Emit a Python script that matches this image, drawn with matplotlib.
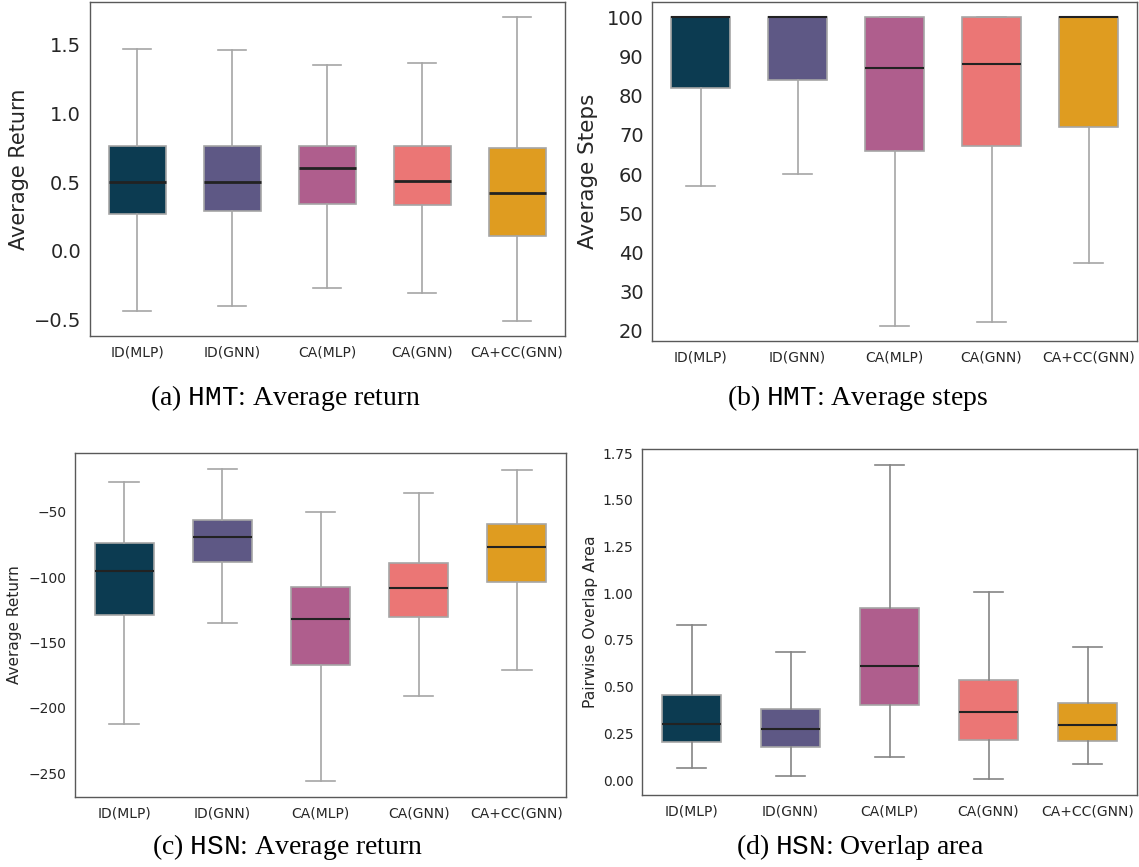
import colorsys

import matplotlib
matplotlib.use("Agg")
import matplotlib.pyplot as plt
from matplotlib.colors import to_rgb
from matplotlib.ticker import FormatStrFormatter, MultipleLocator

methods = ["ID(MLP)", "ID(GNN)", "CA(MLP)", "CA(GNN)", "CA+CC(GNN)"]
palette = ["#003f5c", "#58508d", "#bc5090", "#ff6361", "#ffa600"]

# HMT: average return
hmt_ret_lo = [-0.44, -0.40, -0.27, -0.31, -0.51]
hmt_ret_q1 = [0.27, 0.29, 0.34, 0.33, 0.11]
hmt_ret_med = [0.50, 0.50, 0.60, 0.51, 0.42]
hmt_ret_q3 = [0.76, 0.76, 0.76, 0.76, 0.75]
hmt_ret_hi = [1.47, 1.46, 1.35, 1.37, 1.70]

# HMT: average steps
hmt_steps_lo = [57.0, 60.0, 21.3, 22.3, 37.3]
hmt_steps_q1 = [82.0, 84.0, 66.0, 67.1, 71.9]
hmt_steps_med = [100.0, 100.0, 87.0, 88.1, 100.0]
hmt_steps_q3 = [100.0, 100.0, 100.0, 100.0, 100.0]
hmt_steps_hi = [100.0, 100.0, 100.0, 100.0, 100.0]

# HSN: average return
hsn_ret_lo = [-212.6, -135.4, -256.4, -191.4, -171.0]
hsn_ret_q1 = [-129.0, -88.2, -167.2, -130.3, -104.0]
hsn_ret_med = [-95.6, -69.6, -132.3, -108.3, -76.8]
hsn_ret_q3 = [-73.7, -56.4, -107.6, -89.2, -59.2]
hsn_ret_hi = [-27.1, -16.9, -50.3, -35.5, -17.9]

# HSN: pairwise overlap area
hsn_ovl_lo = [0.062, 0.023, 0.124, 0.004, 0.087]
hsn_ovl_q1 = [0.204, 0.179, 0.399, 0.216, 0.209]
hsn_ovl_med = [0.300, 0.273, 0.612, 0.363, 0.294]
hsn_ovl_q3 = [0.456, 0.381, 0.922, 0.535, 0.413]
hsn_ovl_hi = [0.832, 0.688, 1.688, 1.009, 0.713]

plt.rcParams["font.family"] = "DejaVu Sans"
plt.rcParams["mathtext.fontset"] = "custom"
plt.rcParams["mathtext.rm"] = "Liberation Serif"
plt.rcParams["mathtext.tt"] = "Liberation Mono"

W, H = 1139, 867
fig = plt.figure(figsize=(W / 100, H / 100), dpi=100)


def desaturate(c, prop=0.75):
    h, l, s = colorsys.rgb_to_hls(*to_rgb(c))
    return colorsys.hls_to_rgb(h, l, s * prop)


def px_axes(left, top, right, bottom):
    return fig.add_axes([left / W, 1 - bottom / H, (right - left) / W, (bottom - top) / H])


def boxes(ax, lo, q1, med, q3, hi, ylabel, tick_size, label_size, label_x,
          whisker_color="#a6a6a6", median_lw=1.5):
    stats = [dict(whislo=a, q1=b, med=c, q3=d, whishi=e, fliers=[])
             for a, b, c, d, e in zip(lo, q1, med, q3, hi)]
    art = ax.bxp(stats, positions=range(len(stats)), widths=0.6, patch_artist=True,
                 showfliers=False, manage_ticks=False,
                 boxprops=dict(edgecolor="#a6a6a6", linewidth=1.2),
                 whiskerprops=dict(color=whisker_color, linewidth=1.2),
                 capprops=dict(color=whisker_color, linewidth=1.2),
                 medianprops=dict(color="#222222", linewidth=median_lw))
    for patch, c in zip(art["boxes"], palette):
        patch.set_facecolor(desaturate(c))
    ax.set_xlim(-0.5, len(stats) - 0.5)
    ax.set_xticks(range(len(stats)))
    ax.set_xticklabels(methods)
    ax.tick_params(axis="x", length=0, pad=7, labelsize=10, colors="#262626")
    ax.tick_params(axis="y", length=0, pad=6, labelsize=tick_size, colors="#262626")
    ax.set_ylabel(ylabel, fontsize=label_size, color="#262626")
    # ylabel centre given in figure pixels
    l = ax.get_position().x0 * W
    w = ax.get_position().width * W
    ax.yaxis.set_label_coords((label_x - l) / w, 0.5)
    ax.yaxis.label.set_verticalalignment("center")
    for sp in ax.spines.values():
        sp.set_color("#595959")
        sp.set_linewidth(1.0)


ax_a = px_axes(89.5, 2, 564.5, 336)
boxes(ax_a, hmt_ret_lo, hmt_ret_q1, hmt_ret_med, hmt_ret_q3, hmt_ret_hi,
      "Average Return", 14, 15, 19, median_lw=2)
ax_a.yaxis.set_major_locator(MultipleLocator(0.5))

ax_b = px_axes(652, 2, 1137, 341)
boxes(ax_b, hmt_steps_lo, hmt_steps_q1, hmt_steps_med, hmt_steps_q3, hmt_steps_hi,
      "Average Steps", 14, 15.5, 588)
ax_b.yaxis.set_major_locator(MultipleLocator(10))

ax_c = px_axes(75, 453, 566, 797)
boxes(ax_c, hsn_ret_lo, hsn_ret_q1, hsn_ret_med, hsn_ret_q3, hsn_ret_hi,
      "Average Return", 10, 11, 15)
ax_c.yaxis.set_major_locator(MultipleLocator(50))

ax_d = px_axes(642, 449, 1137, 795)
boxes(ax_d, hsn_ovl_lo, hsn_ovl_q1, hsn_ovl_med, hsn_ovl_q3, hsn_ovl_hi,
      "Pairwise Overlap Area", 10, 11.3, 591, whisker_color="#858585")
ax_d.yaxis.set_major_locator(MultipleLocator(0.25))
ax_d.yaxis.set_major_formatter(FormatStrFormatter("%.2f"))

captions = [
    (286, 398, r"(a) $\mathtt{HMT}$: Average return"),
    (858, 398, r"(b) $\mathtt{HMT}$: Average steps"),
    (288, 847, r"(c) $\mathtt{HSN}$: Average return"),
    (860, 847, r"(d) $\mathtt{HSN}$: Overlap area"),
]
for x, y, s in captions:
    fig.text(x / W, 1 - y / H, s, fontfamily="Liberation Serif", fontsize=20,
             ha="center", va="center")

fig.savefig("out.png", dpi=100)
